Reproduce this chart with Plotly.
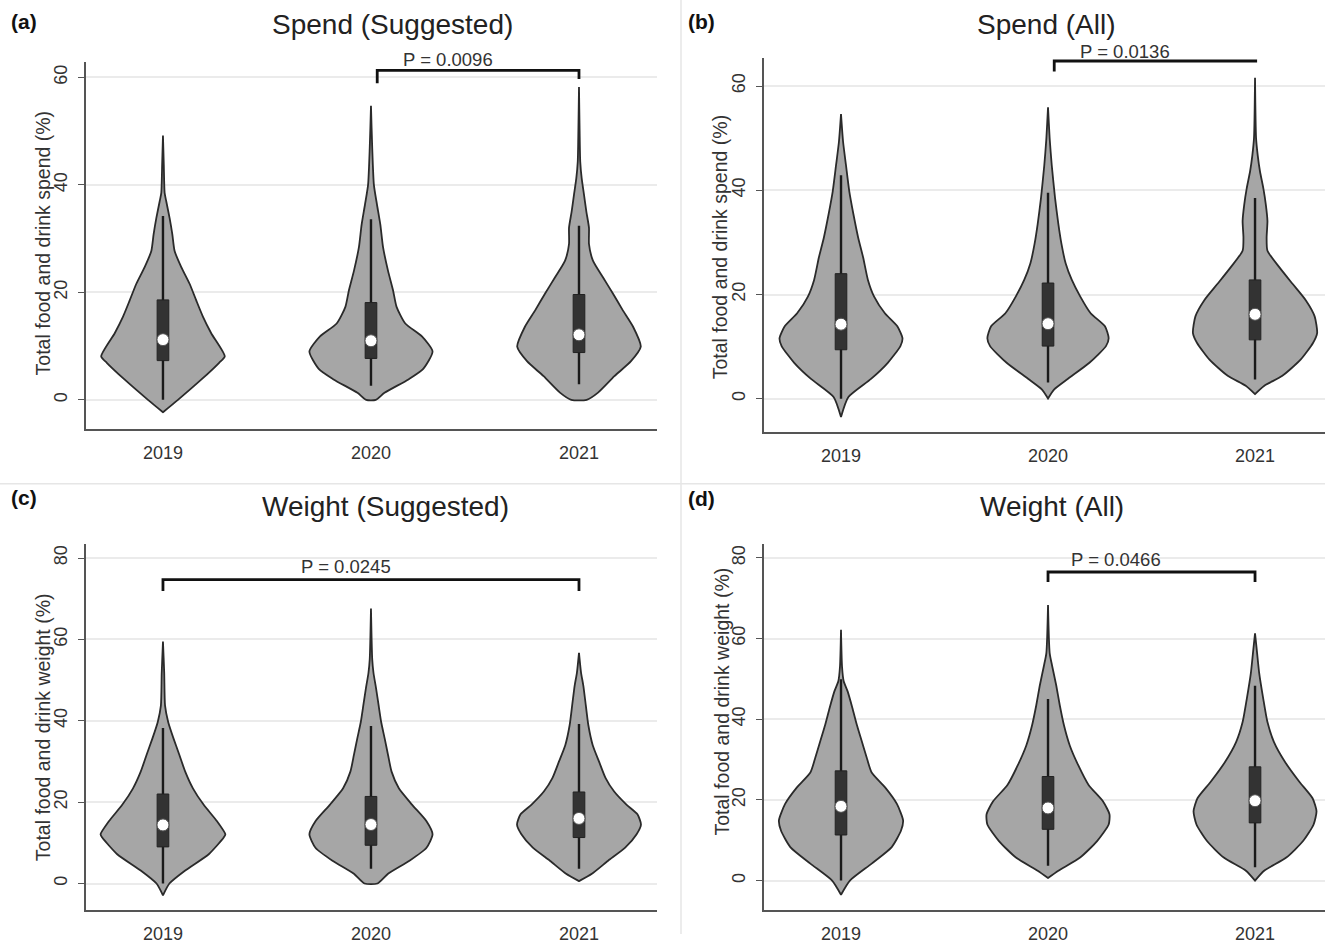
import plotly.graph_objects as go

# ---------------- data ----------------
years = ["2019", "2020", "2021"]

# Panel (a) Spend (Suggested): violin outline profiles (y level, half-width in category units)
a_2019_y = [-2.3, 0, 3.8, 6.9, 8.1, 12.4, 15.5, 18.5, 21.6, 24.7, 27.7, 30.8, 33.8, 36.9, 38.5, 43.7, 49.2]
a_2019_w = [0, 0.072, 0.185, 0.27, 0.297, 0.232, 0.192, 0.16, 0.128, 0.088, 0.056, 0.045, 0.032, 0.016, 0.008, 0.004, 0]
a_2020_y = [0, 1.3, 3.8, 5.7, 9.0, 11.8, 14.2, 17.3, 20.4, 24, 28.4, 32.6, 36.3, 40, 46.8, 54.7]
a_2020_w = [0.023, 0.065, 0.18, 0.25, 0.296, 0.245, 0.165, 0.123, 0.106, 0.082, 0.058, 0.045, 0.029, 0.014, 0.006, 0]
a_2021_y = [0, 1.3, 4.4, 7.2, 9.9, 13.6, 16.7, 19.8, 22.8, 25.9, 29.0, 32.0, 35.1, 38.2, 41.2, 44.3, 50, 58.2]
a_2021_w = [0.037, 0.09, 0.17, 0.25, 0.297, 0.26, 0.21, 0.163, 0.115, 0.067, 0.048, 0.048, 0.035, 0.024, 0.013, 0.006, 0.003, 0]
a_q1 = [7.3, 7.7, 8.8]
a_med = [11.2, 11.0, 12.1]
a_q3 = [18.6, 18.1, 19.6]
a_wlo = [0, 2.6, 2.9]
a_whi = [34.2, 33.6, 32.4]

# Panel (b) Spend (All)
b_2019_y = [-3.5, 0.3, 3.8, 6.9, 10.1, 11.6, 13.9, 16.4, 19.6, 22.8, 27.1, 30.9, 35.4, 39.8, 44.8, 49.3, 54.6]
b_2019_w = [0, 0.035, 0.145, 0.226, 0.287, 0.297, 0.272, 0.212, 0.16, 0.13, 0.107, 0.083, 0.06, 0.04, 0.024, 0.01, 0]
b_2020_y = [0.05, 1.8, 3.8, 6.9, 10.1, 11.6, 13.9, 16.4, 19.6, 22.8, 26.0, 29.7, 33.5, 38.5, 44.8, 49.9, 55.9]
b_2020_w = [0, 0.03, 0.095, 0.2, 0.28, 0.293, 0.275, 0.206, 0.156, 0.115, 0.085, 0.065, 0.05, 0.034, 0.018, 0.008, 0]
b_2021_y = [0.9, 2.5, 4.4, 7.5, 10.7, 12.6, 15.8, 18.9, 22.1, 25.3, 28.4, 30.9, 34.1, 37.3, 40.4, 43.6, 46.7, 50.0, 61.6]
b_2021_w = [0, 0.045, 0.132, 0.22, 0.28, 0.3, 0.288, 0.245, 0.18, 0.116, 0.06, 0.056, 0.06, 0.052, 0.04, 0.024, 0.013, 0.005, 0]
b_q1 = [9.4, 10.1, 11.3]
b_med = [14.3, 14.4, 16.2]
b_q3 = [24.0, 22.2, 22.8]
b_wlo = [0, 3.1, 3.7]
b_whi = [42.9, 39.5, 38.5]

# Panel (c) Weight (Suggested)
c_2019_y = [-2.9, 0, 3.2, 7.2, 11.3, 12.1, 15.3, 19.4, 23.4, 27.5, 31.6, 35.6, 39.7, 43.7, 51.8, 59.5]
c_2019_w = [0, 0.031, 0.107, 0.22, 0.292, 0.30, 0.26, 0.195, 0.144, 0.107, 0.079, 0.051, 0.025, 0.01, 0.006, 0]
c_2020_y = [0, 2.4, 5.6, 8.8, 12.1, 15.3, 19.4, 23.4, 27.5, 31.6, 35.6, 39.7, 43.7, 47.8, 51.8, 55.1, 67.6]
c_2020_w = [0.031, 0.082, 0.185, 0.267, 0.296, 0.267, 0.197, 0.134, 0.099, 0.082, 0.066, 0.049, 0.037, 0.025, 0.012, 0.006, 0]
c_2021_y = [0.6, 2.4, 5.6, 8.8, 12.1, 14.5, 17.0, 19.4, 22.6, 25.9, 29.9, 34.0, 38.9, 43.7, 48.6, 51.8, 56.7]
c_2021_w = [0, 0.062, 0.14, 0.222, 0.277, 0.298, 0.281, 0.228, 0.169, 0.128, 0.097, 0.066, 0.045, 0.033, 0.021, 0.01, 0]
c_q1 = [9.0, 9.4, 11.3]
c_med = [14.4, 14.5, 16.0]
c_q3 = [22.0, 21.4, 22.5]
c_wlo = [0, 3.6, 3.6]
c_whi = [38.2, 38.7, 39.2]

# Panel (d) Weight (All)
d_2019_y = [-3.5, 0, 4.2, 8.3, 12.4, 14.9, 19.0, 23.1, 26.8, 30.5, 34.6, 38.7, 42.8, 46.9, 49.4, 53.0, 62.2]
d_2019_w = [0, 0.043, 0.148, 0.245, 0.29, 0.30, 0.27, 0.213, 0.148, 0.124, 0.1, 0.076, 0.055, 0.032, 0.013, 0.005, 0]
d_2020_y = [0.65, 2.45, 5.7, 9.8, 13.9, 16.4, 19.6, 23.7, 28.6, 33.5, 38.5, 43.4, 48.3, 53.2, 56.4, 68.3]
d_2020_w = [0, 0.05, 0.155, 0.237, 0.293, 0.297, 0.266, 0.196, 0.146, 0.105, 0.077, 0.057, 0.04, 0.02, 0.008, 0]
d_2021_y = [0, 2.45, 5.7, 9.8, 13.9, 17.2, 20.4, 24.5, 29.4, 34.4, 39.3, 45.0, 51.5, 56.4, 61.3]
d_2021_w = [0, 0.044, 0.151, 0.232, 0.283, 0.297, 0.278, 0.214, 0.145, 0.091, 0.06, 0.04, 0.02, 0.01, 0]
d_q1 = [11.3, 12.7, 14.3]
d_med = [18.4, 18.0, 19.8]
d_q3 = [27.2, 25.8, 28.2]
d_wlo = [0, 3.7, 3.3]
d_whi = [49.9, 45.0, 48.3]

# significance brackets: (from category, to category, bar level, left tick end, right tick end, label)
a_bracket = [1.03, 2.0, 61.3, 58.9, 59.7, "P = 0.0096"]
b_bracket = [1.03, 2.01, 64.8, 62.8, 64.8, "P = 0.0136"]
c_bracket = [0.0, 2.0, 74.7, 71.9, 71.9, "P = 0.0245"]
d_bracket = [1.0, 2.0, 76.5, 74.0, 74.0, "P = 0.0466"]
# label centre (category position) for each bracket
a_label_x = 1.37
b_label_x = 1.37
c_label_x = 0.88
d_label_x = 1.33

titles = ["Spend (Suggested)", "Spend (All)", "Weight (Suggested)", "Weight (All)"]
panel_tags = ["(a)", "(b)", "(c)", "(d)"]
ytitles = ["Total food and drink spend (%)", "Total food and drink spend (%)",
           "Total food and drink weight (%)", "Total food and drink weight (%)"]

# ---------------- styling ----------------
FONT = "Liberation Sans, Arial, Helvetica, sans-serif"
VIOLIN_FILL = "#a6a6a6"
VIOLIN_LINE = "#2a2a2a"
BOX_FILL = "#333333"
BOX_HALF = 0.028
TXT = "#333333"

fig = go.Figure()

panels = [
    ("x", "y", [(a_2019_y, a_2019_w), (a_2020_y, a_2020_w), (a_2021_y, a_2021_w)],
     a_q1, a_med, a_q3, a_wlo, a_whi, a_bracket, a_label_x, 11),
    ("x2", "y2", [(b_2019_y, b_2019_w), (b_2020_y, b_2020_w), (b_2021_y, b_2021_w)],
     b_q1, b_med, b_q3, b_wlo, b_whi, b_bracket, b_label_x, 9),
    ("x3", "y3", [(c_2019_y, c_2019_w), (c_2020_y, c_2020_w), (c_2021_y, c_2021_w)],
     c_q1, c_med, c_q3, c_wlo, c_whi, c_bracket, c_label_x, 13),
    ("x4", "y4", [(d_2019_y, d_2019_w), (d_2020_y, d_2020_w), (d_2021_y, d_2021_w)],
     d_q1, d_med, d_q3, d_wlo, d_whi, d_bracket, d_label_x, 13),
]

for xa, ya, profiles, q1, med, q3, wlo, whi, br, lx, lshift in panels:
    for i, (py, pw) in enumerate(profiles):
        xs = [i + w for w in pw] + [i - w for w in reversed(pw)] + [i + pw[0]]
        ys = list(py) + list(reversed(py)) + [py[0]]
        fig.add_trace(go.Scatter(x=xs, y=ys, xaxis=xa, yaxis=ya, mode="lines",
                                 fill="toself", fillcolor=VIOLIN_FILL,
                                 line=dict(color=VIOLIN_LINE, width=1.8, shape="spline", smoothing=0.6),
                                 hoverinfo="skip", showlegend=False))
        # whisker
        fig.add_trace(go.Scatter(x=[i, i], y=[wlo[i], whi[i]], xaxis=xa, yaxis=ya, mode="lines",
                                 line=dict(color="#1a1a1a", width=2.4), hoverinfo="skip", showlegend=False))
        # box
        fig.add_trace(go.Scatter(x=[i - BOX_HALF, i + BOX_HALF, i + BOX_HALF, i - BOX_HALF, i - BOX_HALF],
                                 y=[q1[i], q1[i], q3[i], q3[i], q1[i]], xaxis=xa, yaxis=ya, mode="lines",
                                 fill="toself", fillcolor=BOX_FILL, line=dict(color="#222222", width=1),
                                 hoverinfo="skip", showlegend=False))
        # median
        fig.add_trace(go.Scatter(x=[i], y=[med[i]], xaxis=xa, yaxis=ya, mode="markers",
                                 marker=dict(color="white", size=12, line=dict(color="#555555", width=1)),
                                 hoverinfo="skip", showlegend=False))
    # significance bracket
    fig.add_trace(go.Scatter(x=[br[0], br[0], br[1], br[1]], y=[br[3], br[2], br[2], br[4]],
                             xaxis=xa, yaxis=ya, mode="lines",
                             line=dict(color="#111111", width=2.8), hoverinfo="skip", showlegend=False))
    fig.add_annotation(x=lx, y=br[2], xref=xa, yref=ya, text=br[5], showarrow=False,
                       font=dict(family=FONT, size=18.5, color=TXT), yanchor="middle", yshift=lshift)

W, H = 1325.0, 944.0

def ydom(top_px, bot_px):
    return [1 - bot_px / H, 1 - top_px / H]

common_x = dict(showline=True, linecolor="#555555", linewidth=1.5, showgrid=False, zeroline=False,
                tickmode="array", tickvals=[0, 1, 2], ticktext=years, ticks="",
                tickfont=dict(family=FONT, size=18, color=TXT), ticklabelstandoff=6)
common_y = dict(showline=True, linecolor="#555555", linewidth=1.5, showgrid=True, gridcolor="#ebebeb",
                gridwidth=1.5, zeroline=False, ticks="outside", ticklen=6, tickcolor="#555555",
                tickangle=-90, tickfont=dict(family=FONT, size=18, color=TXT), ticklabelstandoff=4)

fig.update_layout(
    width=1325, height=944, margin=dict(l=0, r=0, t=0, b=0),
    paper_bgcolor="white", plot_bgcolor="white", showlegend=False,
    font=dict(family=FONT, color=TXT),
    xaxis=dict(domain=[86 / W, 657 / W], range=[-0.37, 2.375], anchor="y", **common_x),
    yaxis=dict(domain=ydom(63, 434), range=[-5.5, 62.8], anchor="x", tickvals=[0, 20, 40, 60], **common_y),
    xaxis2=dict(domain=[764 / W, 1.0], range=[-0.372, 2.338], anchor="y2", **common_x),
    yaxis2=dict(domain=ydom(59, 437), range=[-6.45, 65.3], anchor="x2", tickvals=[0, 20, 40, 60], **common_y),
    xaxis3=dict(domain=[86 / W, 657 / W], range=[-0.37, 2.375], anchor="y3", **common_x),
    yaxis3=dict(domain=ydom(550, 920), range=[-6.57, 83.4], anchor="x3", tickvals=[0, 20, 40, 60, 80], **common_y),
    xaxis4=dict(domain=[764 / W, 1.0], range=[-0.372, 2.338], anchor="y4", **common_x),
    yaxis4=dict(domain=ydom(550, 920), range=[-7.36, 83.4], anchor="x4", tickvals=[0, 20, 40, 60, 80], **common_y),
)

# panel titles, tags and y-axis titles
title_pos = [(392, 25), (1046, 25), (385, 512), (1052, 512)]
tag_pos = [(9, 22), (686, 22), (9, 503), (686, 504)]
ytitle_pos = [(43, 246), (720, 250), (43, 735), (722, 709)]
for k in range(4):
    tx, ty = title_pos[k]
    fig.add_annotation(x=tx / W, y=1 - ty / H, xref="paper", yref="paper", text=titles[k],
                       showarrow=False, xanchor="center", yanchor="middle",
                       font=dict(family=FONT, size=28, color="#222222"))
    gx, gy = tag_pos[k]
    fig.add_annotation(x=gx / W, y=1 - gy / H, xref="paper", yref="paper", text="<b>" + panel_tags[k] + "</b>",
                       showarrow=False, xanchor="left", yanchor="middle",
                       font=dict(family=FONT, size=21, color="#111111"))
    yx, yy = ytitle_pos[k]
    fig.add_annotation(x=yx / W, y=1 - yy / H, xref="paper", yref="paper", text=ytitles[k],
                       showarrow=False, xanchor="center", yanchor="middle", textangle=-90,
                       font=dict(family=FONT, size=19.5, color=TXT))

# faint panel separators
fig.add_shape(type="line", xref="paper", yref="paper", x0=681 / W, x1=681 / W, y0=0, y1=1,
              line=dict(color="#e6e6e6", width=1.5))
fig.add_shape(type="line", xref="paper", yref="paper", x0=0, x1=1, y0=1 - 489 / H, y1=1 - 489 / H,
              line=dict(color="#e6e6e6", width=1.5))

fig.write_html("out.html")
